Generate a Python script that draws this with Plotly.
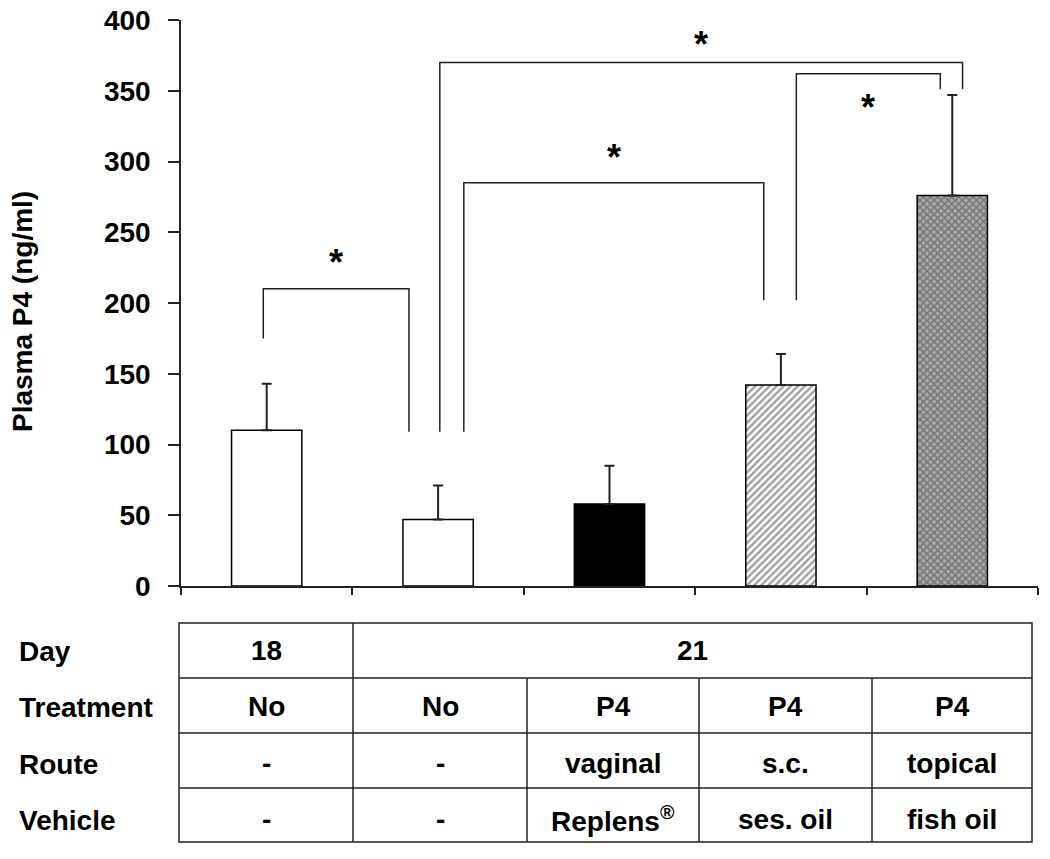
import plotly.graph_objects as go

# ---- data ----
groups = [0, 1, 2, 3, 4]
means = [110, 47, 58, 142, 276]
sem_plus = [33, 24, 27, 22, 71]
bar_fill = ["white", "white", "black", "white", "#a8a8a8"]
bar_pattern = ["", "", "", "/", "x"]

y_ticks = [0, 50, 100, 150, 200, 250, 300, 350, 400]

# significance brackets (x in group units, y in ng/ml)
br_x0 = [-0.02, 1.15, 1.01, 3.09]
br_x1 = [0.83, 2.90, 4.06, 3.93]
br_y0 = [175, 109, 109, 202]
br_y1 = [109, 202, 351, 351]
br_top = [210, 285, 370, 362]
br_star_shift = [26, 25, 18, -34]

row_labels = ["Day", "Treatment", "Route", "Vehicle"]
day_vals = ["18", "21"]
treatment = ["No", "No", "P4", "P4", "P4"]
route = ["-", "-", "vaginal", "s.c.", "topical"]
vehicle = ["-", "-", "Replens<sup>®</sup>", "ses. oil", "fish oil"]

# ---- layout geometry (pixels) ----
W, H = 1050, 859
PL, PR, PT, PB = 181, 1038, 20, 586
FONT = "Liberation Sans, Arial, sans-serif"

def px_x(px):
    return (px - PL) / (PR - PL)

def px_y(py):
    return (PB - py) / (PB - PT)

fig = go.Figure()

fig.add_trace(go.Bar(
    x=groups, y=means, width=0.41,
    marker=dict(
        color=bar_fill,
        line=dict(color="black", width=1.5),
        pattern=dict(shape=bar_pattern, fgcolor="#111",
                     bgcolor=["white", "white", "black", "white", "#cfcfcf"],
                     size=[8, 8, 8, 5, 5], solidity=[0.3, 0.3, 0.3, 0.48, 0.5]),
    ),
    error_y=dict(type="data", array=sem_plus, arrayminus=[0] * 5, symmetric=False,
                 color="#222", thickness=2, width=5),
    showlegend=False, hoverinfo="skip",
))

# brackets
for i in range(len(br_x0)):
    fig.add_trace(go.Scatter(
        x=[br_x0[i], br_x0[i], br_x1[i], br_x1[i]],
        y=[br_y0[i], br_top[i], br_top[i], br_y1[i]],
        mode="lines", line=dict(color="#222", width=1.5),
        showlegend=False, hoverinfo="skip",
    ))
    fig.add_annotation(
        x=(br_x0[i] + br_x1[i]) / 2, y=br_top[i], xref="x", yref="y",
        text="<b>*</b>", showarrow=False, yshift=br_star_shift[i],
        xanchor="center", yanchor="middle",
        font=dict(family=FONT, size=36, color="black"),
    )

# table
col_edges = [179, 353, 527, 699, 872, 1032]
row_edges = [623, 678, 733, 788, 842]
line_style = dict(color="#222", width=1.5)
fig.add_shape(type="rect", xref="paper", yref="paper",
              x0=px_x(col_edges[0]), x1=px_x(col_edges[-1]),
              y0=px_y(row_edges[0]), y1=px_y(row_edges[-1]), line=line_style)
for ry in row_edges[1:-1]:
    fig.add_shape(type="line", xref="paper", yref="paper",
                  x0=px_x(col_edges[0]), x1=px_x(col_edges[-1]),
                  y0=px_y(ry), y1=px_y(ry), line=line_style)
fig.add_shape(type="line", xref="paper", yref="paper",
              x0=px_x(col_edges[1]), x1=px_x(col_edges[1]),
              y0=px_y(row_edges[0]), y1=px_y(row_edges[-1]), line=line_style)
for cx in col_edges[2:-1]:
    fig.add_shape(type="line", xref="paper", yref="paper",
                  x0=px_x(cx), x1=px_x(cx),
                  y0=px_y(row_edges[1]), y1=px_y(row_edges[-1]), line=line_style)

tfont = dict(family=FONT, size=28, color="black", weight="bold")
row_centers = [(row_edges[k] + row_edges[k + 1]) / 2 for k in range(4)]
row_text_shift = [0, -1, -3, -4]
for k, lab in enumerate(row_labels):
    fig.add_annotation(x=px_x(17), y=px_y(row_centers[k]), xref="paper", yref="paper",
                       text=lab, showarrow=False, xanchor="left", yanchor="middle",
                       yshift=row_text_shift[k] - 1, font=tfont)

col_centers = [(col_edges[k] + col_edges[k + 1]) / 2 for k in range(5)]
fig.add_annotation(x=px_x(col_centers[0]), y=px_y(row_centers[0]), xref="paper", yref="paper",
                   text=day_vals[0], showarrow=False, xanchor="center", yanchor="middle",
                   font=tfont)
fig.add_annotation(x=px_x((col_edges[1] + col_edges[-1]) / 2), y=px_y(row_centers[0]),
                   xref="paper", yref="paper", text=day_vals[1], showarrow=False,
                   xanchor="center", yanchor="middle", font=tfont)
for r, vals in enumerate([treatment, route, vehicle], start=1):
    for c, v in enumerate(vals):
        fig.add_annotation(x=px_x(col_centers[c]), y=px_y(row_centers[r]),
                           xref="paper", yref="paper", text=v, showarrow=False,
                           xanchor="center", yanchor="middle",
                           yshift=row_text_shift[r], font=tfont)

# y axis title
fig.add_annotation(x=px_x(22), y=px_y(312), xref="paper", yref="paper",
                   text="Plasma P4 (ng/ml)", textangle=-90, showarrow=False,
                   xanchor="center", yanchor="middle",
                   font=dict(family=FONT, size=28, color="black", weight="bold"))

fig.update_layout(
    width=W, height=H,
    margin=dict(l=PL, r=W - PR, t=PT, b=H - PB, autoexpand=False),
    paper_bgcolor="white", plot_bgcolor="white",
    xaxis=dict(range=[-0.5, 4.5], tickvals=[-0.5, 0.5, 1.5, 2.5, 3.5, 4.5],
               showticklabels=False, ticks="outside", ticklen=7, tickwidth=1.5,
               tickcolor="#222", showline=True, linecolor="#222", linewidth=1.5,
               showgrid=False, zeroline=False, fixedrange=True),
    yaxis=dict(range=[0, 400], tickvals=y_ticks, ticks="outside", ticklen=11,
               tickwidth=1.5, tickcolor="#222", showline=True, linecolor="#222",
               linewidth=1.5, showgrid=False, zeroline=False, ticklabelstandoff=12,
               tickfont=dict(family=FONT, size=28, color="black", weight="bold"),
               fixedrange=True),
)

fig.write_html("out.html", config={"displayModeBar": False},
               post_script="document.body.style.margin='0px';")
